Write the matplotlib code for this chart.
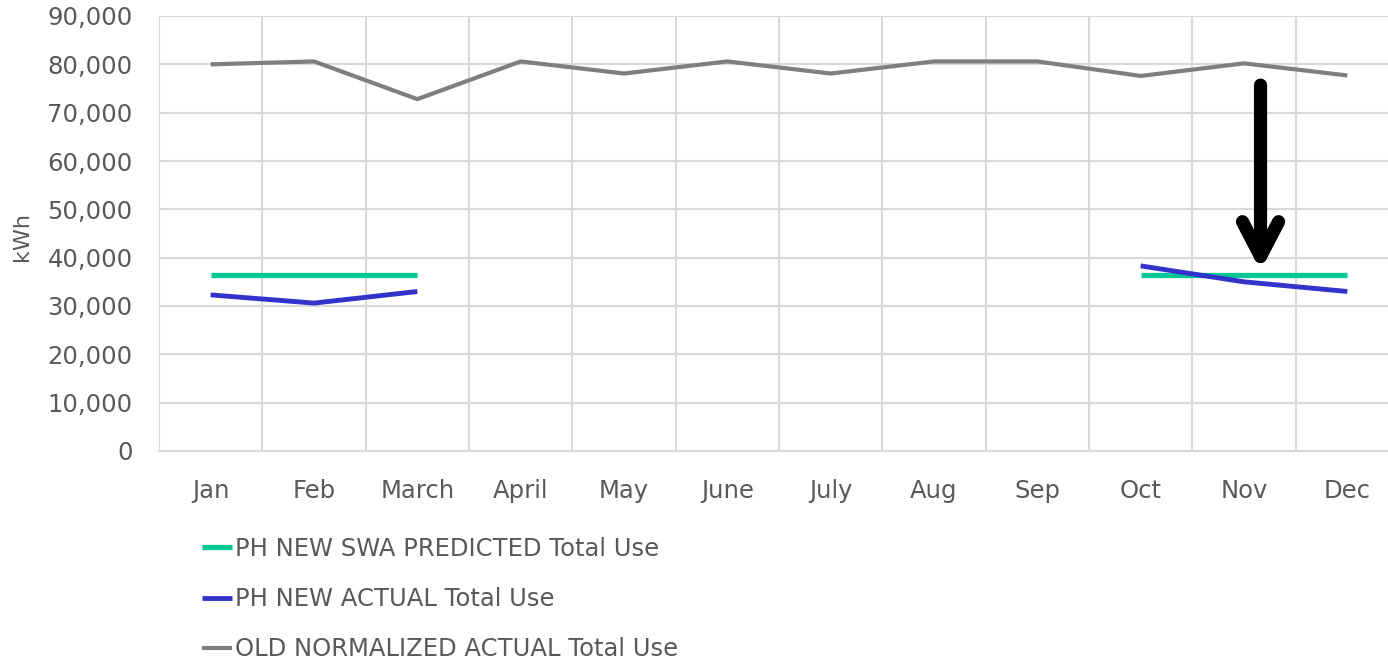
import matplotlib
matplotlib.use("Agg")

import matplotlib.pyplot as plt
import numpy as np

# ── Data ────────────────────────────────────────────────────────────────────
MONTHS = ["Jan", "Feb", "March", "April", "May", "June", "July",
          "Aug", "Sep", "Oct", "Nov", "Dec"]
NAN = np.nan
PREDICTED = [36500, 36500, 36500, NAN, NAN, NAN, NAN, NAN, NAN, 36500, 36500, 36500]
ACTUAL    = [32300, 30600, 33000, NAN, NAN, NAN, NAN, NAN, NAN, 38300, 35000, 33000]
OLD_NORM  = [80000, 80600, 72800, 80600, 78100, 80600, 78100, 80600, 80600,
             77600, 80200, 77700]
SERIES_LABELS = ["PH NEW SWA PREDICTED Total Use",
                 "PH NEW ACTUAL Total Use",
                 "OLD NORMALIZED ACTUAL Total Use"]

# ── Style ───────────────────────────────────────────────────────────────────
TEXT = "#595959"
GRID = "#d9d9d9"
C_PRED = "#00c896"
C_ACT = "#3333cc"
C_OLD = "#7f7f7f"
FS = 17.5

plt.rcParams.update({
    "font.family": "DejaVu Sans",
    "font.size": FS,
})

fig = plt.figure(figsize=(13.88, 6.63), dpi=100)
ax = fig.add_axes([159 / 1388, 1 - 451 / 663, 1240 / 1388, 435 / 663])

x = np.arange(len(MONTHS))
ax.plot(x, OLD_NORM, color=C_OLD, lw=3, solid_capstyle="butt", label=SERIES_LABELS[2], zorder=3)
ax.plot(x, PREDICTED, color=C_PRED, lw=3.8, solid_capstyle="butt", label=SERIES_LABELS[0], zorder=3)
ax.plot(x, ACTUAL, color=C_ACT, lw=3.5, solid_capstyle="butt", label=SERIES_LABELS[1], zorder=4)

# arrow pointing down to the Nov/Dec lines
ax.annotate("", xy=(10.16, 37300), xytext=(10.16, 75700),
            arrowprops=dict(arrowstyle="->,head_length=2.5,head_width=1.3",
                            lw=9.5, color="black", shrinkA=0, shrinkB=0,
                            mutation_scale=10,
                            capstyle="round", joinstyle="round"),
            zorder=5)

ax.set_xlim(-0.5, len(MONTHS) - 0.5)
ax.set_ylim(0, 90000)
ax.set_yticks(np.arange(0, 90001, 10000))
ax.set_yticklabels([f"{v:,}" for v in range(0, 90001, 10000)])
ax.set_xticks(x)
ax.set_xticklabels(MONTHS)
ax.tick_params(axis="both", length=0, colors=TEXT, labelsize=FS)
ax.tick_params(axis="y", pad=19)
ax.tick_params(axis="x", pad=20)

ax.yaxis.grid(True, color=GRID, lw=1.5)
for b in np.arange(-0.5, len(MONTHS), 1.0):
    ax.axvline(b, color=GRID, lw=1.5, zorder=1)
ax.set_axisbelow(True)
for s in ax.spines.values():
    s.set_visible(False)
ax.spines["bottom"].set_visible(True)
ax.spines["bottom"].set_color(GRID)
ax.spines["bottom"].set_linewidth(1.5)

fig.text(22 / 1388, 1 - 236 / 663, "kWh", rotation=90, ha="center", va="center",
         color=TEXT, fontsize=16)

handles, labels = ax.get_legend_handles_labels()
order = [1, 2, 0]
leg = fig.legend([handles[i] for i in order], [labels[i] for i in order],
                 loc="upper left", bbox_to_anchor=(202 / 1388, 1 - 537 / 663),
                 frameon=False, borderpad=0, borderaxespad=0,
                 handlelength=1.22, handletextpad=0.12, labelspacing=1.08,
                 fontsize=FS, labelcolor=TEXT)

fig.savefig("out.png", dpi=100, facecolor="white")
